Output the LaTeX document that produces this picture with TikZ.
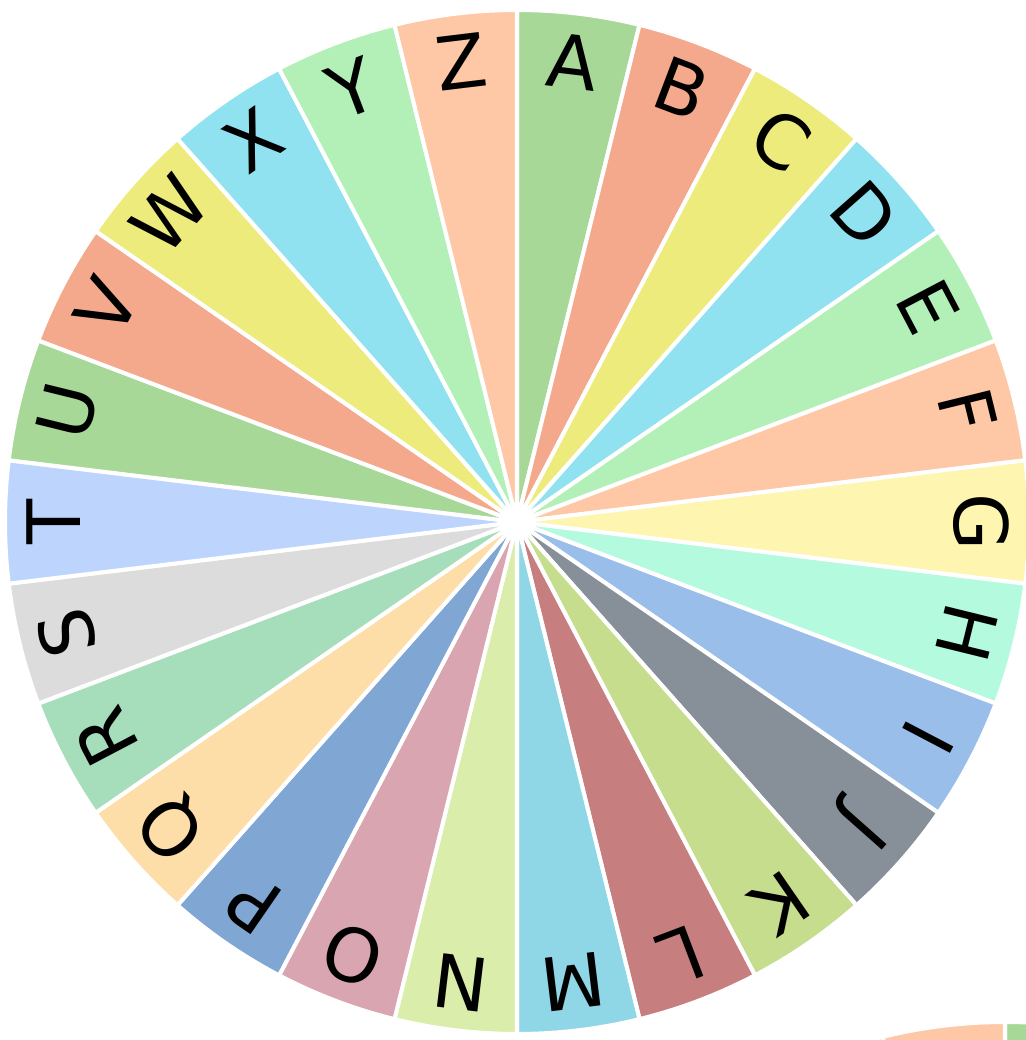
\documentclass[tikz,border=0pt]{standalone}
\usepackage{fontspec}
\setmainfont{DejaVu Sans}
\usepackage{tikz}

\definecolor{wA}{HTML}{A8D898}
\definecolor{wB}{HTML}{F4A98C}
\definecolor{wC}{HTML}{EDEB7C}
\definecolor{wD}{HTML}{90E2F0}
\definecolor{wE}{HTML}{B2F0B8}
\definecolor{wF}{HTML}{FEC8A6}
\definecolor{wG}{HTML}{FEF6B0}
\definecolor{wH}{HTML}{B3FADF}
\definecolor{wI}{HTML}{9ABEEA}
\definecolor{wJ}{HTML}{878F99}
\definecolor{wK}{HTML}{C6DD8E}
\definecolor{wL}{HTML}{C77E7F}
\definecolor{wM}{HTML}{8FD6E6}
\definecolor{wN}{HTML}{DAEDAA}
\definecolor{wO}{HTML}{D8A5B1}
\definecolor{wP}{HTML}{80A6D4}
\definecolor{wQ}{HTML}{FDDDA8}
\definecolor{wR}{HTML}{A6DDBA}
\definecolor{wS}{HTML}{DCDCDC}
\definecolor{wT}{HTML}{BDD5FC}
\colorlet{wU}{wA}
\colorlet{wV}{wB}
\colorlet{wW}{wC}
\colorlet{wX}{wD}
\colorlet{wY}{wE}
\colorlet{wZ}{wF}

\tikzset{
  slice/.style={draw=white,line width=2.3pt,line join=round},
  letter/.style={anchor=base,inner sep=0pt,font=\fontsize{42}{50}\selectfont}
}

% the 26 slices of a wheel round (0,0)
\newcommand{\wheelslices}{%
  \foreach \l [count=\i from 0] in {A,...,Z} {
    \pgfmathsetmacro{\a}{90-\i*360/26}
    \pgfmathsetmacro{\b}{\a-360/26}
    \filldraw[slice,fill=w\l] (0,0) -- (\a:512) arc[start angle=\a,end angle=\b,radius=10.24cm] -- cycle;
  }
  \fill[white] (0,0) circle (0.3cm);
}
% its letters, tops pointing out
\newcommand{\wheelletters}{%
  \foreach \l [count=\i from 0] in {A,...,Z} {
    \pgfmathsetmacro{\m}{90-(\i+0.5)*360/26}
    \node[letter,rotate=\m-90] (l\l) at (\m:437) {\l};
  }
}

\begin{document}
\begin{tikzpicture}[x=0.02cm,y=0.02cm]
  \useasboundingbox (0,0) rectangle (1026,1040);
  \fill[white] (0,0) rectangle (1026,1040);
  \clip (0,0) rectangle (1026,1040);
  \begin{scope}[shift={(517,518)}]
    \wheelslices
    \wheelletters
  \end{scope}
  \begin{scope}[shift={(1005,-494)}] % next wheel, only its top shows
    \wheelslices
  \end{scope}
\end{tikzpicture}
\end{document}
